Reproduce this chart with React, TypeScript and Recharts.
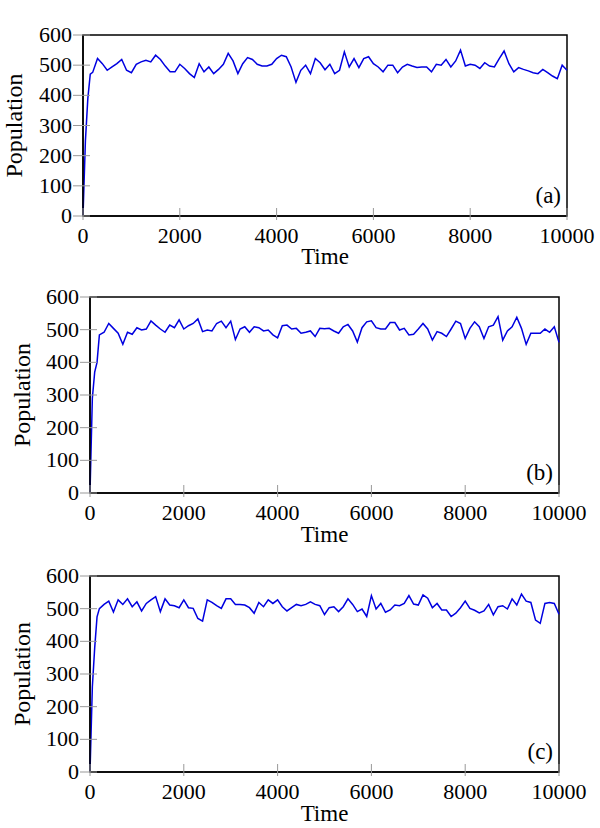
import { LineChart, Line, XAxis, YAxis, ReferenceArea, Label } from 'recharts';

// time steps (shared by the three runs)
const TIME = [
  0, 50, 100, 150, 200, 300, 400, 500, 600, 700, 800, 900, 1000, 1100, 1200, 1300, 1400, 1500, 1600, 1700,
  1800, 1900, 2000, 2100, 2200, 2300, 2400, 2500, 2600, 2700, 2800, 2900, 3000, 3100, 3200, 3300, 3400,
  3500, 3600, 3700, 3800, 3900, 4000, 4100, 4200, 4300, 4400, 4500, 4600, 4700, 4800, 4900, 5000, 5100,
  5200, 5300, 5400, 5500, 5600, 5700, 5800, 5900, 6000, 6100, 6200, 6300, 6400, 6500, 6600, 6700, 6800,
  6900, 7000, 7100, 7200, 7300, 7400, 7500, 7600, 7700, 7800, 7900, 8000, 8100, 8200, 8300, 8400, 8500,
  8600, 8700, 8800, 8900, 9000, 9100, 9200, 9300, 9400, 9500, 9600, 9700, 9800, 9900, 10000,
];

const POP_A = [
  0, 250, 390, 470, 476, 522, 505, 483, 494, 505, 519, 483, 475, 503, 511, 516, 511, 533, 519, 497,
  478, 478, 503, 489, 472, 459, 505, 478, 494, 472, 486, 503, 539, 514, 472, 505, 525,
  519, 503, 497, 497, 503, 522, 533, 528, 494, 443, 483, 500, 472, 522, 508, 485, 503,
  472, 483, 544, 494, 522, 492, 522, 528, 505, 494, 478, 500, 500, 475, 494, 503, 497,
  492, 494, 494, 478, 503, 500, 519, 494, 514, 550, 497, 503, 500, 489, 508, 497, 494,
  522, 547, 505, 478, 492, 486, 481, 475, 472, 486, 475, 464, 455, 500, 483,
];

const POP_B = [
  0, 290, 370, 400, 484, 492, 519, 504, 489, 455, 492, 486, 506, 499, 502, 527, 514, 502, 492, 514,
  506, 530, 502, 512, 519, 533, 494, 499, 496, 519, 526, 506, 526, 470, 502, 509, 492,
  509, 506, 496, 499, 484, 475, 512, 514, 502, 504, 489, 492, 496, 479, 504, 503, 504,
  496, 489, 509, 516, 496, 462, 506, 524, 527, 506, 502, 502, 522, 522, 499, 504, 484,
  486, 502, 519, 502, 468, 494, 489, 479, 502, 526, 519, 473, 504, 524, 509, 473, 509,
  514, 540, 468, 496, 509, 538, 504, 455, 489, 489, 489, 502, 492, 509, 461,
];

const POP_C = [
  0, 260, 380, 475, 500, 513, 523, 490, 527, 513, 530, 506, 521, 493, 516, 527, 537, 491, 530, 511,
  509, 503, 527, 503, 501, 470, 462, 527, 519, 509, 501, 530, 530, 513, 513, 511, 503,
  486, 519, 506, 527, 516, 527, 506, 493, 503, 513, 509, 513, 521, 513, 509, 482, 503,
  506, 491, 506, 530, 513, 491, 499, 476, 540, 499, 516, 489, 496, 511, 509, 516, 540,
  514, 511, 542, 532, 503, 516, 496, 496, 476, 486, 503, 523, 501, 495, 487, 493, 513,
  481, 506, 509, 499, 530, 511, 545, 523, 519, 465, 455, 516, 519, 516, 483,
];

const X_TICKS = [0, 2000, 4000, 6000, 8000, 10000];
const Y_TICKS = [0, 100, 200, 300, 400, 500, 600];

const rows = TIME.map((t, i) => ({ t, a: POP_A[i], b: POP_B[i], c: POP_C[i] }));

const FONT = '"Liberation Serif", "Times New Roman", serif';
const H = 276;

const XTick = ({ x, y, payload }: any) => (
  <g>
    <line x1={x} x2={x} y1={y - 8} y2={y + 4} stroke="#999" strokeWidth={1} />
    <text x={x} y={y + 27} textAnchor="middle" fontSize={22} fontFamily={FONT} fill="#000">
      {payload.value}
    </text>
  </g>
);

const YTick = ({ x, y, payload }: any) => (
  <g>
    <line x1={x - 10} x2={x + 7} y1={y} y2={y} stroke="#999" strokeWidth={1} />
    <text x={x - 11} y={y + 7} textAnchor="end" fontSize={22} fontFamily={FONT} fill="#000">
      {payload.value}
    </text>
  </g>
);

function Panel({ dataKey, tag, top, left, right, plotTop, plotBottom, yLabelX, timeY }: any) {
  const midY = (plotTop + plotBottom) / 2;
  return (
    <div style={{ position: 'absolute', left: 0, top }}>
      <LineChart
        width={600}
        height={H}
        data={rows}
        margin={{ left: left - 50, right: 600 - right, top: plotTop, bottom: H - plotBottom - 40 }}
      >
        <XAxis
          dataKey="t"
          type="number"
          domain={[0, 10000]}
          ticks={X_TICKS}
          height={40}
          tickSize={0}
          tickMargin={0}
          tickLine={false}
          tick={<XTick />}
          interval={0}
          axisLine={{ stroke: '#000', strokeWidth: 1.5 }}
        >
          <Label
            content={() => (
              <text x={(left + right) / 2} y={timeY} textAnchor="middle" fontSize={23} fontFamily={FONT} fill="#000">
                Time
              </text>
            )}
          />
        </XAxis>
        <YAxis
          type="number"
          domain={[0, 600]}
          ticks={Y_TICKS}
          width={50}
          tickSize={0}
          tickMargin={0}
          tickLine={false}
          tick={<YTick />}
          interval={0}
          axisLine={{ stroke: '#000', strokeWidth: 1.5 }}
        >
          <Label
            content={() => (
              <text
                x={yLabelX}
                y={midY}
                transform={`rotate(-90, ${yLabelX}, ${midY})`}
                textAnchor="middle"
                dominantBaseline="central"
                fontSize={24}
                fontFamily={FONT}
                fill="#000"
              >
                Population
              </text>
            )}
          />
        </YAxis>
        <ReferenceArea x1={0} x2={10000} y1={0} y2={600} fill="none" stroke="#000" strokeWidth={1.5}>
          <Label
            content={() => (
              <text x={right - 6} y={plotBottom - 13} textAnchor="end" fontSize={23} fontFamily={FONT} fill="#000">
                {tag}
              </text>
            )}
          />
        </ReferenceArea>
        <Line
          type="linear"
          dataKey={dataKey}
          stroke="#0000e0"
          strokeWidth={1.5}
          dot={false}
          isAnimationActive={false}
        />
      </LineChart>
    </div>
  );
}

export default function App() {
  return (
    <div style={{ position: 'absolute', left: 0, top: 0, width: 600, height: 828, background: '#fff' }}>
      <Panel dataKey="a" tag="(a)" top={0} left={83} right={567} plotTop={35} plotBottom={216} yLabelX={14} timeY={264} />
      <Panel dataKey="b" tag="(b)" top={276} left={90} right={559} plotTop={21} plotBottom={217} yLabelX={22} timeY={266} />
      <Panel dataKey="c" tag="(c)" top={552} left={90} right={559} plotTop={24} plotBottom={220} yLabelX={22} timeY={269} />
    </div>
  );
}
